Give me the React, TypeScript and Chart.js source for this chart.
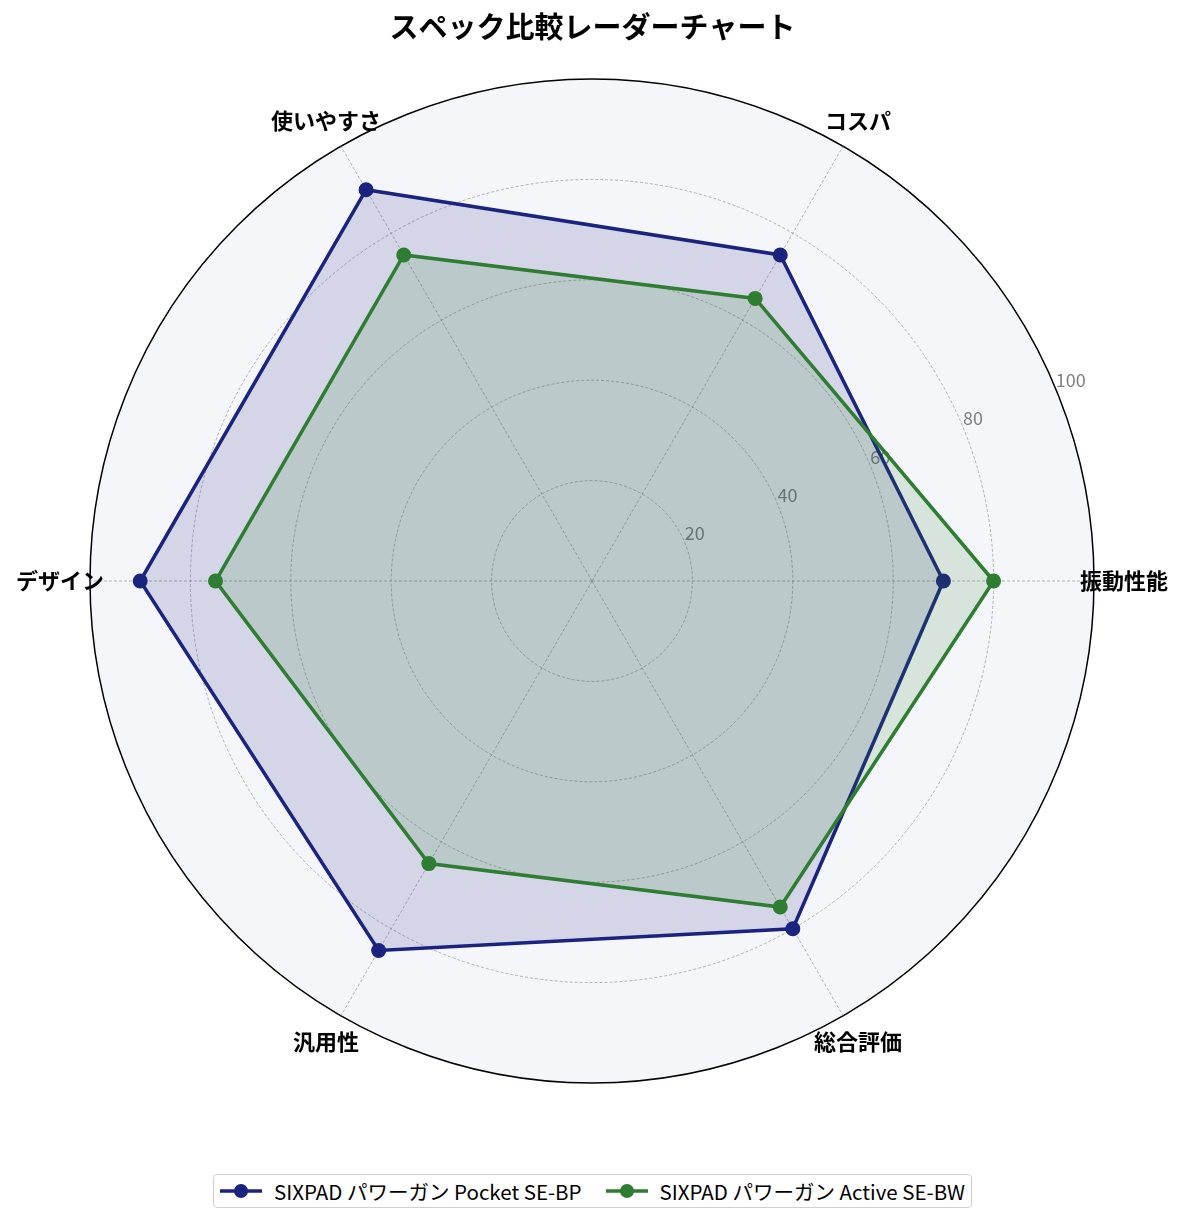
import { useEffect, useRef } from "react"
import Chart from "chart.js/auto"

const title = "スペック比較レーダーチャート"
const categories = ["振動性能", "コスパ", "使いやすさ", "デザイン", "汎用性", "総合評価"]
const pocketValues = [70, 75, 90, 90, 85, 80]
const activeValues = [80, 65, 75, 75, 65, 75]
const seriesNames = ["SIXPAD パワーガン Pocket SE-BP", "SIXPAD パワーガン Active SE-BW"]
const tickValues = [20, 40, 60, 80, 100]

const FONT = "'Noto Sans CJK JP', 'Noto Sans', sans-serif"
const BLUE = "#1a237e"
const GREEN = "#2e7d32"
const COLORS = [BLUE, GREEN]

// matplotlib goes counter-clockwise from the right, Chart.js goes clockwise
const order = categories.map((_, i) => (categories.length - i) % categories.length)
const pick = (arr: any[]) => order.map((i) => arr[i])

// radial tick labels along 22.5deg, under the data
const tickPlugin = {
  id: "polarTicks",
  beforeDatasetsDraw(chart: any) {
    const scale = chart.scales.r
    const ctx = chart.ctx
    ctx.save()
    const a = (22.5 * Math.PI) / 180
    ctx.font = `18px ${FONT}`
    ctx.fillStyle = "#808080"
    ctx.textAlign = "left"
    ctx.textBaseline = "bottom"
    tickValues.forEach((v) => {
      const d = scale.getDistanceFromCenterForValue(v)
      ctx.fillText(String(v), scale.xCenter + d * Math.cos(a), scale.yCenter - d * Math.sin(a))
    })
    ctx.restore()
  },
}

// category labels centred just outside the circle
const labelPlugin = {
  id: "polarLabels",
  afterDatasetsDraw(chart: any) {
    const scale = chart.scales.r
    const ctx = chart.ctx
    ctx.save()
    ctx.font = `bold 22px ${FONT}`
    ctx.fillStyle = "#000"
    ctx.textAlign = "center"
    ctx.textBaseline = "middle"
    chart.data.labels.forEach((lab: string, i: number) => {
      const p = scale.getPointPositionForValue(i, 106)
      ctx.fillText(lab, p.x, p.y)
    })
    ctx.restore()
  },
}

function RadarChart() {
  const chartRef = useRef<HTMLCanvasElement>(null)
  const chartInstance = useRef<Chart | null>(null)

  useEffect(() => {
    if (!chartRef.current) return
    if (chartInstance.current) chartInstance.current.destroy()

    const ctx = chartRef.current.getContext("2d")
    if (!ctx) return

    chartInstance.current = new Chart(ctx, {
      type: "radar",
      data: {
        labels: pick(categories),
        datasets: [
          {
            label: seriesNames[0],
            data: pick(pocketValues),
            borderColor: BLUE,
            backgroundColor: "rgba(26, 35, 126, 0.15)",
            pointBackgroundColor: BLUE,
            pointBorderColor: BLUE,
            borderWidth: 3.5,
            pointRadius: 7.5,
            pointBorderWidth: 0,
            fill: true,
            order: 1,
          },
          {
            label: seriesNames[1],
            data: pick(activeValues),
            borderColor: GREEN,
            backgroundColor: "rgba(46, 125, 50, 0.15)",
            pointBackgroundColor: GREEN,
            pointBorderColor: GREEN,
            borderWidth: 3.5,
            pointRadius: 7.5,
            pointBorderWidth: 0,
            fill: true,
            order: 0,
          },
        ],
      },
      options: {
        responsive: true,
        maintainAspectRatio: false,
        animation: false,
        layout: { padding: { left: 90, right: 90, top: 0, bottom: 139 } },
        scales: {
          r: {
            min: 0,
            max: 100,
            startAngle: 90,
            backgroundColor: "#f5f6fa",
            ticks: { display: false, stepSize: 20 },
            pointLabels: { display: false },
            grid: {
              circular: true,
              color: (c: any) => (c.tick && c.tick.value === 100 ? "#000" : "rgba(140,140,140,0.8)"),
              lineWidth: (c: any) => (c.tick && c.tick.value === 100 ? 1.5 : 0.8),
            },
            border: {
              dash: (c: any) => (c.tick && c.tick.value === 100 ? [] : [3, 2]),
            },
            angleLines: {
              color: "rgba(140,140,140,0.8)",
              lineWidth: 0.8,
              borderDash: [3, 2],
            },
          },
        },
        plugins: {
          legend: { display: false },
          tooltip: { enabled: false },
          title: {
            display: true,
            text: title,
            color: "#000",
            font: { family: FONT, size: 29, weight: "bold" },
            padding: { top: 10, bottom: 35 },
          },
        },
      },
      plugins: [tickPlugin, labelPlugin],
    })

    return () => {
      if (chartInstance.current) {
        chartInstance.current.destroy()
        chartInstance.current = null
      }
    }
  }, [])

  return <canvas ref={chartRef}></canvas>
}

function LegendItem({ color, text }: { color: string; text: string }) {
  return (
    <div style={{ display: "flex", alignItems: "center", marginRight: 24 }}>
      <svg width={42} height={16} style={{ marginRight: 12 }}>
        <line x1={0} y1={8} x2={42} y2={8} stroke={color} strokeWidth={3.5} />
        <circle cx={21} cy={8} r={7} fill={color} />
      </svg>
      <span>{text}</span>
    </div>
  )
}

export default function App() {
  return (
    <div style={{ position: "absolute", left: 0, top: 0, width: 1185, height: 1223, background: "#fff" }}>
      <div style={{ position: "absolute", left: 0, top: 0, width: 1185, height: 1223 }}>
        <RadarChart />
      </div>
      <div
        style={{
          position: "absolute",
          left: 213,
          top: 1174,
          width: 759,
          height: 34,
          boxSizing: "border-box",
          border: "1.5px solid #d0d0d0",
          borderRadius: 4,
          background: "#fff",
          display: "flex",
          alignItems: "center",
          paddingLeft: 6,
          fontFamily: FONT,
          fontSize: 20.5,
          color: "#000",
          whiteSpace: "nowrap",
        }}
      >
        {seriesNames.map((n, i) => (
          <LegendItem key={n} color={COLORS[i]} text={n} />
        ))}
      </div>
    </div>
  )
}
